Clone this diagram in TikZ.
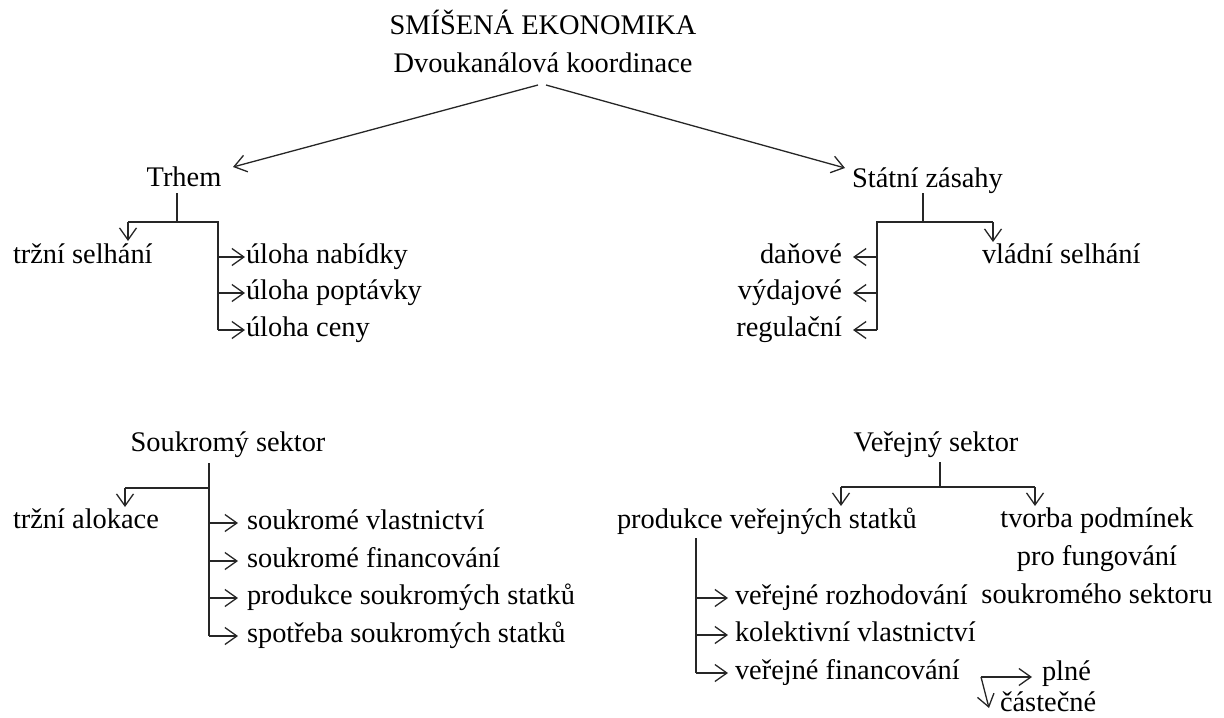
\documentclass[tikz,border=0pt]{standalone}
\usepackage{fontspec}
\setmainfont{Liberation Serif}
\usetikzlibrary{arrows.meta}
\begin{document}
\begin{tikzpicture}[x=0.5pt,y=-0.5pt]
\tikzset{
 txt/.style={inner sep=0pt, outer sep=0pt, font=\fontsize{14.2}{17}\selectfont, text height=9.8pt, text depth=3.5pt},
 ln/.style={line width=0.65pt, draw=black!85},
 arr/.style={ln, -{Straight Barb[length=6pt,width=8.5pt,line width=0.65pt]}},
}
\useasboundingbox (0,0) rectangle (1224,717);

% ---- top ----
\node[txt] (t1) at (543,28) {SMÍŠENÁ EKONOMIKA};
\node[txt] (t2) at (543,66) {Dvoukanálová koordinace};
\coordinate (t2l) at (538,85);
\coordinate (t2r) at (546,85);

% ---- Trhem ----
\node[txt] (trh) at (184,180) {Trhem};
\coordinate (trhIn) at (233,167);
\coordinate (trhA) at (177,193);
\coordinate (trhJ) at (177,222);
\coordinate (trhL) at (128,222);
\coordinate (trhR) at (218,222);
\coordinate (trhLt) at (128,241);
\node[txt, anchor=west] (ts) at (13,257) {tržní selhání};
\node[txt, anchor=west] (un) at (246,257) {úloha nabídky};
\node[txt, anchor=west] (up) at (246,293) {úloha poptávky};
\node[txt, anchor=west] (uc) at (246,330) {úloha ceny};
\coordinate (trhB) at (218,330);

\draw[arr] (t2l) -- (trhIn);
\draw[ln] (trhA) -- (trhJ);
\draw[ln] (trhL) -- (trhR) -- (trhB);
\draw[arr] (trhL) -- (trhLt);
\foreach \n in {un,up,uc}{
  \draw[arr] (trhR |- \n.west) -- ([xshift=-0.5pt]\n.west);
}

% ---- Statni zasahy ----
\node[txt] (sz) at (927.5,181) {Státní zásahy};
\coordinate (szIn) at (845,168);
\coordinate (szA) at (923,193);
\coordinate (szJ) at (923,222);
\coordinate (szL) at (877,222);
\coordinate (szR) at (993,222);
\coordinate (szRt) at (993,242);
\coordinate (szB) at (877,330);
\node[txt, anchor=west] (vs) at (982,257) {vládní selhání};
\node[txt, anchor=east] (dan) at (842,257) {daňové};
\node[txt, anchor=east] (vyd) at (842,293) {výdajové};
\node[txt, anchor=east] (reg) at (842,330) {regulační};

\draw[arr] (t2r) -- (szIn);
\draw[ln] (szA) -- (szJ);
\draw[ln] (szR) -- (szL) -- (szB);
\draw[arr] (szR) -- (szRt);
\foreach \n in {dan,vyd,reg}{
  \draw[arr] (szL |- \n.east) -- ([xshift=5.5pt]\n.east);
}

% ---- Soukromy sektor ----
\node[txt] (sk) at (228,445) {Soukromý sektor};
\coordinate (skA) at (209,463);
\coordinate (skJ) at (209,488);
\coordinate (skL) at (125,488);
\coordinate (skLt) at (125,507);
\coordinate (skB) at (209,636);
\node[txt, anchor=west] (ta) at (13,522) {tržní alokace};
\node[txt, anchor=west] (sv) at (247,523) {soukromé vlastnictví};
\node[txt, anchor=west] (sf) at (247,561) {soukromé financování};
\node[txt, anchor=west] (ps) at (247,598) {produkce soukromých statků};
\node[txt, anchor=west] (ss) at (247,636) {spotřeba soukromých statků};

\draw[ln] (skA) -- (skB);
\draw[ln] (skJ) -- (skL);
\draw[arr] (skL) -- (skLt);
\foreach \n in {sv,sf,ps,ss}{
  \draw[arr] (skA |- \n.west) -- ([xshift=-4.5pt]\n.west);
}

% ---- Verejny sektor ----
\node[txt] (vsk) at (936,445) {Veřejný sektor};
\coordinate (vA) at (940,462);
\coordinate (vJ) at (940,487);
\coordinate (vL) at (841,487);
\coordinate (vR) at (1035,487);
\coordinate (vLt) at (841,506);
\coordinate (vRt) at (1035,506);
\node[txt, anchor=west] (pvs) at (617,522) {produkce veřejných statků};
\node[txt] (tv1) at (1097,521) {tvorba podmínek};
\node[txt] (tv2) at (1097,559) {pro fungování};
\node[txt] (tv3) at (1097,597) {soukromého sektoru};

\draw[ln] (vA) -- (vJ);
\draw[ln] (vL) -- (vR);
\draw[arr] (vL) -- (vLt);
\draw[arr] (vR) -- (vRt);

\coordinate (pA) at (696,538);
\coordinate (pB) at (696,673);
\node[txt, anchor=west] (vr) at (735,598) {veřejné rozhodování};
\node[txt, anchor=west] (kv) at (735,635) {kolektivní vlastnictví};
\node[txt, anchor=west] (vf) at (735,673) {veřejné financování};
\draw[ln] (pA) -- (pB);
\foreach \n in {vr,kv,vf}{
  \draw[arr] (pA |- \n.west) -- ([xshift=-3.5pt]\n.west);
}

\node[txt, anchor=west] (pl) at (1042,674) {plné};
\node[txt, anchor=base west, text depth=0pt] (cs) at (1000,711) {částečné};
\coordinate (fJ) at (981,677);
\coordinate (fR) at (1032,677);
\coordinate (fD) at (989,708);
\draw[arr] (fJ) -- (fR);
\draw[arr] (fJ) -- (fD);
\end{tikzpicture}
\end{document}
